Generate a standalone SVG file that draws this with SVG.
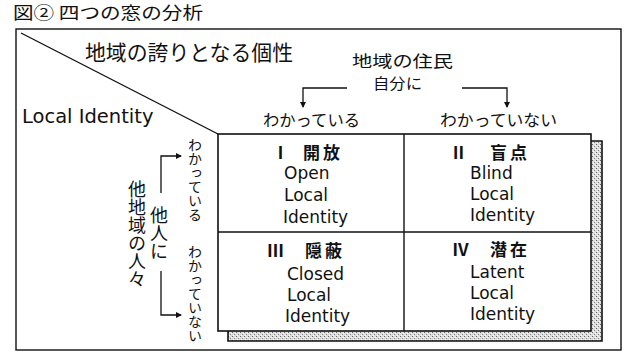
<svg xmlns="http://www.w3.org/2000/svg" width="625" height="360" viewBox="0 0 625 360">
<defs>
<style>
.jp{font-family:"Noto Sans CJK JP","Noto Sans CJK SC",sans-serif;fill:#111}
.en{font-family:"DejaVu Sans","Liberation Sans",sans-serif;fill:#111}
.hd{font-family:"Noto Sans CJK JP",sans-serif;font-weight:bold;font-size:17px;fill:#111}
.vt{writing-mode:vertical-rl;font-family:"Noto Sans CJK JP",sans-serif;fill:#111}
.ln{fill:none;stroke:#111;stroke-width:1.4}
.con{fill:none;stroke:#111;stroke-width:1.3}
</style>
<marker id="arr" markerWidth="6" markerHeight="6" refX="5" refY="3" orient="auto" markerUnits="userSpaceOnUse">
<path d="M0,0 L6,3 L0,6 Z" fill="#111"/>
</marker>
<pattern id="dots" width="4" height="4" patternUnits="userSpaceOnUse">
<rect width="4" height="4" fill="#dcdcdc"/>
<rect x="0" y="0" width="1" height="1" fill="#666"/>
<rect x="2" y="2" width="1" height="1" fill="#888"/>
<rect x="3" y="1" width="1" height="1" fill="#fff"/>
<rect x="1" y="3" width="1" height="1" fill="#fff"/>
</pattern>
</defs>
<rect width="625" height="360" fill="#fff"/>

<g id="title">
<text class="jp" x="13" y="19" font-size="17" textLength="190" lengthAdjust="spacingAndGlyphs">図② 四つの窓の分析</text>
</g>

<g id="frame">
<rect x="16" y="29" width="605" height="321" class="ln" stroke-width="1.2"/>
<line x1="21" y1="33" x2="218" y2="134" class="ln"/>
</g>

<g id="header-labels">
<text class="jp" x="352" y="67" font-size="16" textLength="101" lengthAdjust="spacingAndGlyphs">地域の住民</text>
<text class="jp" x="373" y="89" font-size="15" textLength="49" lengthAdjust="spacingAndGlyphs">自分に</text>
<text class="jp" x="85" y="60" font-size="21" textLength="208" lengthAdjust="spacingAndGlyphs">地域の誇りとなる個性</text>
<text class="en" x="22" y="123" font-size="19.5">Local Identity</text>
<text class="jp" x="263" y="126" font-size="16" textLength="97" lengthAdjust="spacingAndGlyphs">わかっている</text>
<text class="jp" x="440" y="126" font-size="16" textLength="117" lengthAdjust="spacingAndGlyphs">わかっていない</text>
<text class="vt" x="195" y="138" font-size="14">わかっている</text>
<text class="vt" x="195" y="245" font-size="14">わかっていない</text>
<text class="vt" x="159" y="206" font-size="18">他人に</text>
<text class="vt" x="137" y="180" font-size="18">他地域の人々</text>
</g>

<g id="connectors">
<polyline class="con" points="347,88 303,88 303,107" marker-end="url(#arr)"/>
<polyline class="con" points="462,88 507,88 507,107" marker-end="url(#arr)"/>
<polyline class="con" points="161,193 161,156 181,156" marker-end="url(#arr)"/>
<polyline class="con" points="161,271 161,315 181,315" marker-end="url(#arr)"/>
</g>

<g id="shadow">
<path d="M591,141 L602,141 L602,341 L228,341 L228,331 L591,331 Z" fill="url(#dots)"/>
<polyline points="591,141 602,141 602,341 228,341 228,331" fill="none" stroke="#111" stroke-width="1.6"/>
</g>

<g id="grid">
<rect x="218" y="134" width="373" height="197" fill="none" stroke="#111" stroke-width="1.6"/>
<line x1="404" y1="134" x2="404" y2="331" class="ln"/>
<line x1="218" y1="232" x2="591" y2="232" class="ln"/>
</g>

<g id="q1">
<text class="hd" x="272" y="159">Ⅰ</text>
<text class="hd" x="303" y="159" letter-spacing="3">開放</text>
<text class="en" x="284" y="179" font-size="17">Open</text>
<text class="en" x="284" y="201" font-size="17">Local</text>
<text class="en" x="283" y="223" font-size="17">Identity</text>
</g>

<g id="q2">
<text class="hd" x="450" y="159">Ⅱ</text>
<text class="hd" x="490" y="159" letter-spacing="3">盲点</text>
<text class="en" x="470" y="179" font-size="17">Blind</text>
<text class="en" x="470" y="200" font-size="17">Local</text>
<text class="en" x="470" y="221" font-size="17">Identity</text>
</g>

<g id="q3">
<text class="hd" x="267" y="257">Ⅲ</text>
<text class="hd" x="305" y="257" letter-spacing="3">隠蔽</text>
<text class="en" x="287" y="280" font-size="17">Closed</text>
<text class="en" x="287" y="301" font-size="17">Local</text>
<text class="en" x="285" y="322" font-size="17">Identity</text>
</g>

<g id="q4">
<text class="hd" x="452" y="256">Ⅳ</text>
<text class="hd" x="490" y="256" letter-spacing="3">潜在</text>
<text class="en" x="470" y="278" font-size="17">Latent</text>
<text class="en" x="470" y="299" font-size="17">Local</text>
<text class="en" x="470" y="320" font-size="17">Identity</text>
</g>
</svg>
